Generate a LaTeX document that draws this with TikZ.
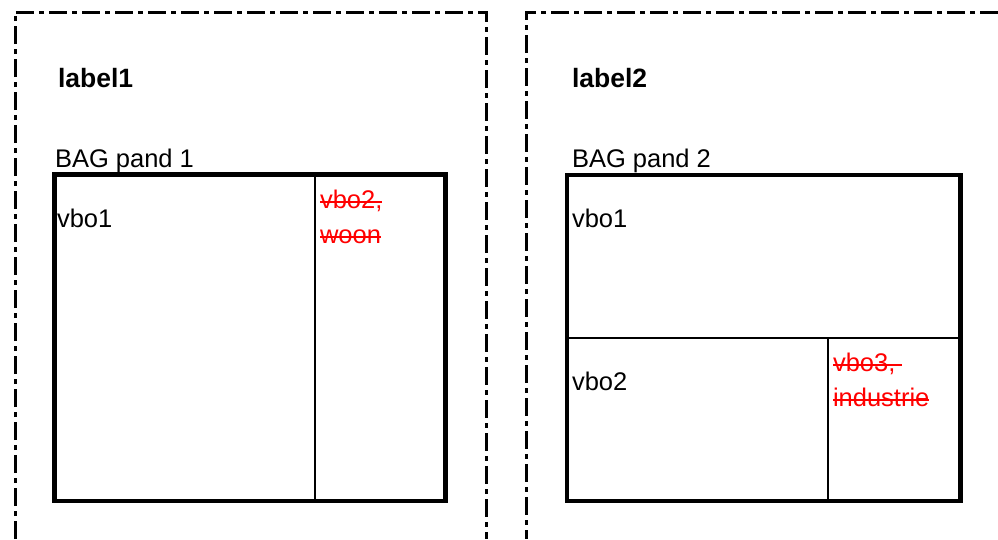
\documentclass[tikz,border=0pt]{standalone}
\usepackage{fontspec}
\setmainfont{Liberation Sans}
\usepackage{xcolor}
\usepackage{tikz}
\usetikzlibrary{positioning}
\newlength\strikewd
\newcommand\strike[1]{\settowidth\strikewd{#1}\rlap{\rule[5.5pt]{\strikewd}{2pt}}#1}

\begin{document}
\begin{tikzpicture}[x=1pt, y=-1pt,
    every node/.style={inner sep=0pt, outer sep=0pt, anchor=base west,
        font=\fontsize{25.5}{34.5}\selectfont, align=left},
    frame/.style={line width=3pt, dash pattern=on 18pt off 5pt on 5pt off 5pt},
    pand/.style={line width=4.6pt},
    part/.style={line width=2pt},
    lbl/.style={font=\fontsize{26.5}{30}\selectfont\bfseries},
    gone/.style={text=red}]
\useasboundingbox (0,0) rectangle (998,539);

% --- pand 1 (left) ---
\draw[frame] (15,539) -- (15,12) -- (486,12) -- (486,539);
\node[lbl] (label1) at (58,87) {label1};
\node (pand1) at (55,167) {BAG pand 1};
\draw[pand] (54.5,174.5) rectangle (445.5,501);
\draw[part] (315,174.5) -- (315,501);
\node (p1vbo1) at (57,227) {vbo1};
% second line's baseline sets the node
\node[gone] (p1vbo2) at (320,243) {\strike{vbo2,}\\\strike{woon}};

% --- pand 2 (right) ---
\draw[frame] (998,12) -- (526,12) -- (526,539);
\node[lbl] (label2) at (572,87) {label2};
\node (pand2) at (572,167) {BAG pand 2};
\draw[pand] (567,175) rectangle (960.5,501);
\draw[part] (567,338) -- (960.5,338);
\draw[part] (828,338) -- (828,501);
\node (p2vbo1) at (572,227) {vbo1};
\node (p2vbo2) at (572,390) {vbo2};
\node[gone] (p2vbo3) at (833,406) {\strike{vbo3,\ }\\\strike{industrie}};
\end{tikzpicture}
\end{document}
